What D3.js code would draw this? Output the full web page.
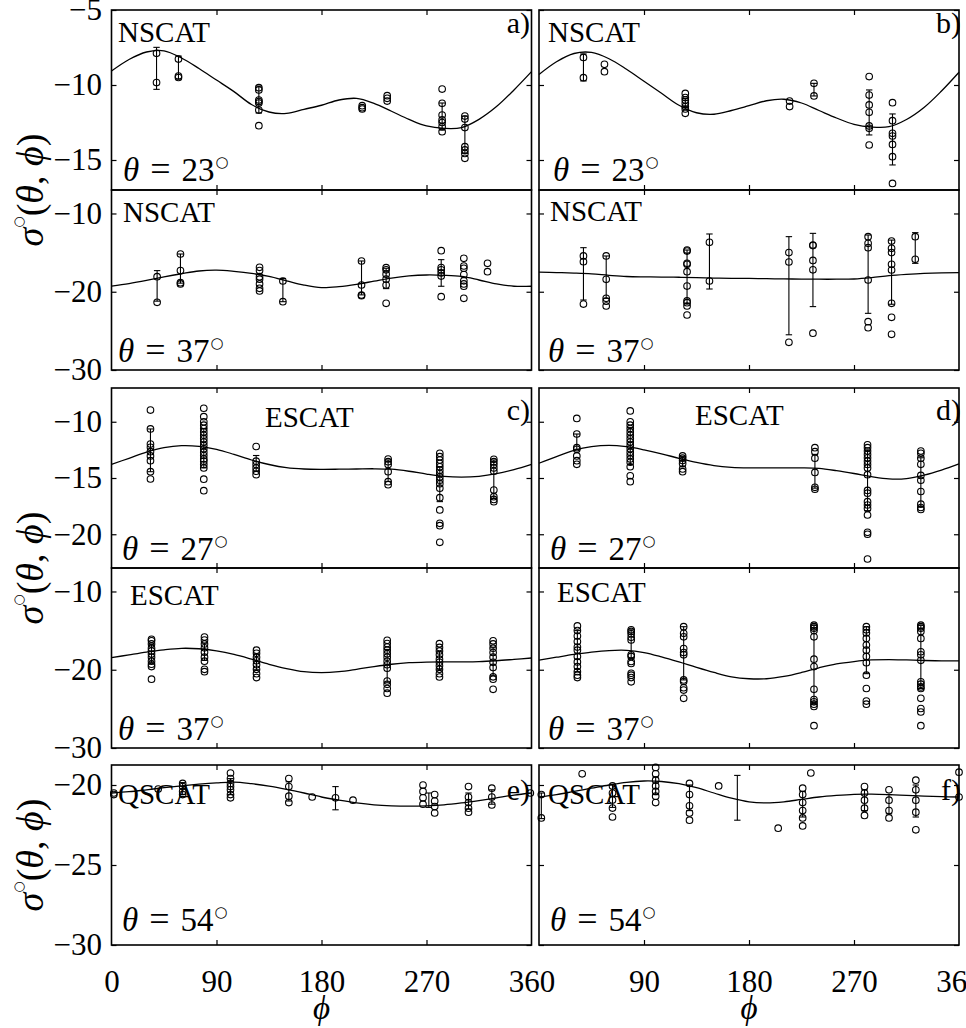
<!DOCTYPE html>
<html>
<head>
<meta charset="utf-8">
<script src="https://cdn.jsdelivr.net/npm/d3@7"></script>
<style>
  body { margin: 0; background: #fff; }
  svg { display: block; }
  svg text { fill: #000; font-family: 'Liberation Serif', 'Times New Roman', Times, serif; }
</style>
</head>
<body>
<svg id="fig" width="966" height="1028"></svg>
<script>
// ---------- azimuth grid of the model curves ----------
const curvePhi = [0, 15, 30, 45, 60, 75, 90, 105, 120, 135, 150, 165, 180,
                  195, 210, 225, 240, 255, 270, 285, 300, 315, 330, 345, 360];

// ---------- tick labels ----------
const xTicksLeft  = [0, 90, 180, 270, 360];
const xTicksRight = [90, 180, 270, 360];
const xTickMarks  = [90, 180, 270];
const yTicksA1 = [-5, -10, -15];
const yTicksA2 = [-10, -20, -30];
const yTicksC1 = [-10, -15, -20];
const yTicksC2 = [-10, -20, -30];
const yTicksE  = [-20, -25, -30];

// ---------- a) NSCAT, theta = 23 / 37 ----------
const aTopCurve = [-9.07, -8.3, -7.8, -7.72, -8.2, -8.9, -9.67, -10.44, -11.3, -11.8, -11.89, -11.62, -11.35,
                   -11.0, -10.89, -11.22, -11.75, -12.29, -12.73, -12.89, -12.84, -12.29, -11.44, -10.33, -9.11];
const aTopPts = [
  [38.6, [-7.89, -9.84]],
  [57.4, [-8.27, -9.4, -9.5]],
  [126.3, [-10.18, -10.33, -11.0, -11.1, -11.2, -11.67, -12.71]],
  [214.9, [-11.38, -11.51, -11.6]],
  [236.3, [-10.71, -10.89, -11.07]],
  [283.4, [-10.27, -11.22, -12.0, -12.33, -12.5, -12.78, -13.11]],
  [302.9, [-12.07, -12.27, -12.84, -14.11, -14.33, -14.56, -14.89]]
];
const aTopBars = [[38.6, -7.49, -10.29], [57.4, -8.07, -9.6], [126.3, -10.07, -11.87],
                  [283.4, -11.2, -13.0], [302.9, -12.07, -14.56]];

const aBotCurve = [-19.27, -18.95, -18.55, -18.1, -17.7, -17.35, -17.25, -17.4, -17.65, -18.05, -18.6, -19.15, -19.48,
                   -19.35, -19.05, -18.65, -18.25, -17.98, -17.86, -17.9, -18.05, -18.5, -19.0, -19.3, -19.3];
const aBotPts = [
  [39.1, [-18.07, -21.35]],
  [59.1, [-15.18, -17.3, -18.84, -19.0]],
  [126.9, [-16.88, -17.3, -18.07, -18.4, -19.0, -19.56, -19.9]],
  [146.9, [-18.63, -21.27]],
  [214.3, [-16.07, -19.14, -20.42, -20.5]],
  [235.4, [-16.93, -17.2, -17.75, -18.4, -19.14, -21.48]],
  [282.6, [-14.75, -16.9, -17.2, -17.6, -18.0, -20.63]],
  [302.0, [-15.73, -16.71, -17.0, -17.8, -18.6, -19.0, -19.3, -20.84]],
  [322.3, [-16.37, -17.44]]
];
const aBotBars = [[39.1, -17.3, -21.2], [59.1, -15.18, -18.9], [146.9, -18.3, -21.27],
                  [214.3, -16.07, -20.4], [235.4, -17.0, -19.6], [282.6, -15.9, -19.3]];

// ---------- b) NSCAT, theta = 23 / 37 ----------
const bTopCurve = [-9.3, -8.45, -7.9, -7.83, -8.25, -8.95, -9.75, -10.55, -11.35, -11.85, -11.95, -11.7, -11.38,
                   -11.05, -10.95, -11.2, -11.7, -12.2, -12.62, -12.8, -12.78, -12.3, -11.5, -10.4, -9.15];
const bTopPts = [
  [38.1, [-8.16, -9.51]],
  [56.1, [-8.62, -9.11]],
  [125.4, [-10.56, -10.84, -11.0, -11.22, -11.44, -11.6, -11.89]],
  [214.8, [-11.07, -11.44]],
  [235.7, [-9.89, -10.73]],
  [283.0, [-9.44, -10.67, -11.33, -11.82, -12.73, -12.89, -14.0]],
  [303.0, [-11.18, -12.38, -13.22, -13.4, -13.96, -14.78, -16.56]]
];
const bTopBars = [[38.1, -7.93, -9.73], [125.4, -10.9, -11.5], [235.7, -9.89, -10.73],
                  [283.0, -10.33, -13.33], [303.0, -11.93, -15.33]];

const bBotCurve = [-17.5, -17.55, -17.62, -17.72, -17.9, -18.05, -18.1, -18.12, -18.15, -18.2, -18.25, -18.28, -18.3,
                   -18.33, -18.36, -18.38, -18.4, -18.4, -18.37, -18.2, -17.95, -17.78, -17.65, -17.58, -17.56];
const bBotPts = [
  [38.1, [-15.43, -16.16, -21.57]],
  [57.6, [-15.43, -18.42, -20.84, -21.2, -21.82]],
  [126.9, [-14.67, -14.8, -16.37, -16.5, -17.44, -19.27, -21.18, -21.4, -21.82, -22.97]],
  [146.1, [-13.69, -18.63]],
  [214.2, [-15.0, -16.2, -26.46]],
  [234.8, [-14.03, -14.1, -16.0, -17.2, -25.3]],
  [282.1, [-12.96, -13.81, -14.37, -18.5, -23.83, -24.6]],
  [302.2, [-13.52, -14.45, -15.0, -16.5, -17.22, -21.48, -23.27, -25.44]],
  [322.5, [-12.96, -15.86]]
];
const bBotBars = [[38.1, -14.37, -21.06], [57.6, -15.43, -20.84], [126.9, -14.67, -21.5],
                  [146.1, -12.62, -19.65], [214.2, -12.96, -25.5], [234.8, -12.54, -21.9],
                  [282.1, -12.75, -22.76], [302.2, -13.4, -21.6], [322.5, -12.45, -16.37]];

// ---------- c) ESCAT, theta = 27 / 37 ----------
const cTopCurve = [-13.78, -13.25, -12.7, -12.3, -12.12, -12.18, -12.45, -12.9, -13.4, -13.8, -14.08, -14.2, -14.23,
                   -14.22, -14.2, -14.18, -14.22, -14.4, -14.65, -14.85, -14.92, -14.85, -14.62, -14.25, -13.78];
const cTopPts = [
  [33.4, [-8.96, -10.64, -11.98, -12.27, -12.66, -13.04, -13.46, -14.44, -15.09]],
  [79.1, [-8.8, -9.55, -10.0, -10.3, -10.6, -10.9, -11.2, -11.5, -11.8, -12.1, -12.4, -12.7, -13.0,
          -13.3, -13.5, -13.8, -14.1, -15.1, -16.13]],
  [124.0, [-12.2, -13.5, -13.8, -14.1, -14.4, -14.7]],
  [237.1, [-13.31, -13.55, -13.8, -14.44, -15.33, -15.6]],
  [281.4, [-12.81, -13.1, -13.4, -13.7, -14.0, -14.3, -14.6, -14.9, -15.2, -15.5, -15.9, -16.75,
           -17.84, -19.03, -19.24, -20.72]],
  [327.7, [-13.34, -13.55, -13.8, -14.1, -14.4, -16.07, -16.66, -16.9, -17.1]]
];
const cTopBars = [[33.4, -10.64, -14.44], [79.1, -10.6, -14.1], [124.0, -13.0, -14.4],
                  [237.1, -13.4, -15.3], [281.4, -14.0, -17.1], [327.7, -13.4, -16.8]];

const cBotCurve = [-18.46, -18.1, -17.75, -17.45, -17.26, -17.32, -17.6, -18.05, -18.65, -19.3, -19.85, -20.25, -20.37,
                   -20.25, -19.95, -19.6, -19.3, -19.1, -19.02, -19.0, -19.0, -18.97, -18.85, -18.68, -18.5];
const cBotPts = [
  [34.3, [-16.11, -16.3, -16.7, -17.25, -17.6, -18.0, -18.4, -18.9, -19.3, -19.6, -21.2]],
  [79.7, [-15.82, -16.2, -16.7, -17.2, -17.75, -18.4, -18.9, -19.95, -20.25]],
  [124.3, [-17.5, -17.9, -18.4, -18.85, -19.35, -19.95, -20.5, -21.0]],
  [236.3, [-16.24, -16.66, -17.1, -17.5, -17.95, -18.4, -18.9, -19.36, -19.8, -21.44, -21.86, -22.4, -23.0]],
  [281.1, [-16.67, -17.15, -17.6, -18.1, -18.65, -19.05, -19.5, -19.95, -20.5, -20.93]],
  [327.1, [-16.3, -16.7, -17.25, -17.8, -18.4, -19.05, -19.7, -20.9, -21.2, -22.5]]
];
const cBotBars = [[34.3, -16.8, -19.1], [79.7, -16.6, -18.8], [124.3, -18.0, -20.0],
                  [236.3, -17.4, -21.6], [281.1, -17.7, -20.0], [327.1, -17.2, -20.7]];

// ---------- d) ESCAT, theta = 27 / 37 ----------
const dTopCurve = [-13.69, -13.1, -12.55, -12.22, -12.1, -12.22, -12.5, -12.85, -13.25, -13.62, -13.9, -14.05, -14.1,
                   -14.1, -14.1, -14.1, -14.15, -14.35, -14.6, -14.88, -15.08, -15.05, -14.75, -14.3, -13.75];
const dTopPts = [
  [32.4, [-9.7, -11.09, -12.3, -12.45, -13.04, -13.46, -13.78]],
  [78.2, [-9.04, -10.0, -10.3, -10.6, -10.9, -11.2, -11.5, -11.8, -12.1, -12.4, -12.7, -13.0, -13.3,
          -13.6, -14.0, -14.8, -15.33]],
  [123.1, [-13.04, -13.24, -13.45, -13.7, -14.2, -14.44]],
  [236.5, [-12.3, -12.66, -13.24, -14.5, -15.83, -16.0]],
  [281.6, [-12.05, -12.3, -12.6, -12.9, -13.2, -13.5, -13.8, -14.1, -14.7, -16.1, -16.35, -17.1,
           -17.4, -17.7, -18.29, -19.83, -20.0, -22.2]],
  [327.3, [-12.6, -12.8, -13.24, -13.78, -14.77, -15.2, -16.2, -17.33, -17.62, -17.8]]
];
const dTopBars = [[32.4, -11.09, -12.45], [78.2, -10.5, -13.8], [123.1, -13.1, -14.0],
                  [236.5, -12.9, -15.9], [281.6, -12.5, -17.9], [327.3, -13.2, -17.5]];

const dBotCurve = [-18.76, -18.4, -18.05, -17.75, -17.55, -17.52, -17.8, -18.35, -19.0, -19.7, -20.35, -20.9, -21.15,
                   -21.15, -20.85, -20.35, -19.75, -19.25, -18.95, -18.75, -18.7, -18.75, -18.82, -18.86, -18.87];
const dBotPts = [
  [32.9, [-14.4, -15.0, -15.7, -16.4, -17.1, -17.5, -18.3, -19.0, -19.6, -20.25, -20.7, -21.0]],
  [79.0, [-14.9, -15.1, -15.4, -15.85, -16.2, -18.1, -18.3, -18.95, -19.2, -20.45, -20.7, -21.0, -21.55]],
  [124.0, [-14.5, -15.35, -15.8, -17.3, -17.8, -18.1, -21.3, -21.5, -22.3, -22.6, -23.65]],
  [235.7, [-14.3, -14.5, -14.7, -15.0, -15.8, -18.65, -19.6, -22.5, -23.8, -24.1, -24.4, -24.7, -27.15]],
  [280.6, [-14.5, -14.9, -15.3, -16.0, -16.85, -17.5, -18.3, -19.1, -20.7, -22.4, -24.0, -24.4]],
  [327.3, [-14.3, -14.5, -14.7, -15.1, -16.0, -17.7, -18.1, -18.8, -21.55, -21.85, -22.2, -22.4,
           -23.65, -24.95, -25.4, -27.15]]
];
const dBotBars = [[32.9, -15.0, -20.25], [79.0, -14.9, -18.5], [124.0, -14.5, -21.3],
                  [235.7, -14.3, -24.4], [280.6, -14.5, -20.5], [327.3, -14.3, -22.4]];

// ---------- e), f) QSCAT, theta = 54 ----------
const eCurve = [-20.5, -20.42, -20.3, -20.17, -20.05, -19.95, -19.87, -19.82, -19.92, -20.07, -20.27, -20.5, -20.75,
                -20.95, -21.12, -21.24, -21.3, -21.32, -21.3, -21.24, -21.12, -20.97, -20.8, -20.63, -20.5];
const ePts = [
  [2, [-20.5, -20.6]],
  [40, [-20.25]],
  [61, [-19.9, -20.1, -20.4, -20.6]],
  [102, [-19.25, -19.6, -19.9, -20.1, -20.3, -20.6, -20.8]],
  [152, [-19.6, -20.1, -20.7, -21.1]],
  [172, [-20.75]],
  [192, [-20.8]],
  [207, [-20.95]],
  [267, [-20.0, -20.4, -20.8, -21.2]],
  [277, [-20.6, -21.0, -21.35, -21.75]],
  [306, [-20.1, -20.75, -21.1, -21.45, -21.7]],
  [326, [-20.2, -20.75, -21.25]],
  [359, [-20.5]]
];
const eBars = [[61, -19.85, -20.6], [102, -19.6, -20.6], [152, -19.8, -21.0], [192, -20.1, -21.55],
               [272, -20.5, -21.4], [306, -20.5, -21.5], [326, -20.3, -21.2]];

const fCurve = [-20.75, -20.6, -20.4, -20.2, -20.0, -19.83, -19.75, -19.78, -19.92, -20.17, -20.5, -20.82, -21.05,
                -21.12, -21.05, -20.9, -20.75, -20.65, -20.58, -20.57, -20.6, -20.65, -20.7, -20.73, -20.75];
const fPts = [
  [2, [-20.6, -22.06]],
  [37, [-19.3]],
  [63, [-20.06, -20.5, -20.94, -21.44, -22.0]],
  [100, [-18.9, -19.3, -19.7, -20.06, -20.4, -20.7, -21.1]],
  [129, [-19.9, -20.6, -21.3, -21.75, -22.2]],
  [154, [-20.06]],
  [205, [-22.7]],
  [226, [-20.2, -20.6, -21.1, -21.6, -22.06, -22.56]],
  [233, [-19.25]],
  [279, [-20.1, -20.5, -20.95, -21.45, -21.9]],
  [300, [-20.3, -20.95, -21.6, -22.06]],
  [323, [-19.7, -20.3, -20.95, -21.7, -22.8]],
  [360, [-19.2, -20.75]]
];
const fBars = [[2, -20.5, -22.1], [63, -20.0, -21.4], [100, -19.5, -20.6], [129, -20.0, -21.6],
               [170, -19.4, -22.2], [226, -20.4, -22.0], [279, -20.3, -21.6], [300, -20.6, -21.8],
               [323, -20.0, -22.0]];

// ---------- layout ----------
const RING_FONT = "'DejaVu Sans', sans-serif";
const colX = [[111.5, 531.5], [539, 959]];
const PH = 180;
const rows = [
  { top: 10,  dom: [-17, -5],     ticks: yTicksA1 },
  { top: 190, dom: [-30, -7],     ticks: yTicksA2 },
  { top: 388, dom: [-23, -7],     ticks: yTicksC1 },
  { top: 568, dom: [-30, -7],     ticks: yTicksC2 },
  { top: 765, dom: [-30, -18.75], ticks: yTicksE }
];

const panels = [
  { row: 0, col: 0, curve: aTopCurve, pts: aTopPts, bars: aTopBars,
    name: ['NSCAT', 118, 41.5], tag: ['a)', 530, 33], theta: ['23', 123, 181] },
  { row: 1, col: 0, curve: aBotCurve, pts: aBotPts, bars: aBotBars,
    name: ['NSCAT', 123, 221.5], theta: ['37', 118, 361.5] },
  { row: 0, col: 1, curve: bTopCurve, pts: bTopPts, bars: bTopBars,
    name: ['NSCAT', 548, 41.5], tag: ['b)', 961, 33], theta: ['23', 553, 181] },
  { row: 1, col: 1, curve: bBotCurve, pts: bBotPts, bars: bBotBars,
    name: ['NSCAT', 550, 220.5], theta: ['37', 548, 361.5] },
  { row: 2, col: 0, curve: cTopCurve, pts: cTopPts, bars: cTopBars,
    name: ['ESCAT', 265, 427], tag: ['c)', 530, 420], theta: ['27', 122, 560] },
  { row: 3, col: 0, curve: cBotCurve, pts: cBotPts, bars: cBotBars,
    name: ['ESCAT', 130, 605], theta: ['37', 118, 740] },
  { row: 2, col: 1, curve: dTopCurve, pts: dTopPts, bars: dTopBars,
    name: ['ESCAT', 695, 425], tag: ['d)', 961, 420], theta: ['27', 550, 560] },
  { row: 3, col: 1, curve: dBotCurve, pts: dBotPts, bars: dBotBars,
    name: ['ESCAT', 557, 602], theta: ['37', 548, 740] },
  { row: 4, col: 0, curve: eCurve, pts: ePts, bars: eBars,
    name: ['QSCAT', 118, 804], tag: ['e)', 530, 800], theta: ['54', 122, 931] },
  { row: 4, col: 1, curve: fCurve, pts: fPts, bars: fBars,
    name: ['QSCAT', 548, 804], tag: ['f)', 961, 800], theta: ['54', 550, 931] }
];

const svg = d3.select('#fig');

function innerTicks(g, axis) {
  g.call(axis);
  g.select('.domain').remove();
  g.selectAll('text').remove();
  g.selectAll('line').attr('stroke', '#000').attr('stroke-width', 1.2);
}

function thetaText(g, deg, x, y) {
  const t = g.append('text').attr('x', x).attr('y', y).attr('font-size', 33);
  t.append('tspan').attr('font-style', 'italic').text('θ');
  t.append('tspan').attr('dx', 11).attr('font-size', 36).text('=');
  t.append('tspan').attr('dx', 11).text(deg);
  t.append('tspan').attr('dx', 1).attr('dy', -14).attr('font-size', 15)
    .style('font-family', RING_FONT).text('○');
}

panels.forEach(p => {
  const r = rows[p.row];
  const [x0, x1] = colX[p.col];
  const x = d3.scaleLinear().domain([0, 360]).range([x0, x1]);
  const y = d3.scaleLinear().domain(r.dom).range([r.top + PH, r.top]);
  const g = svg.append('g');

  // model curve
  const line = d3.line()
    .x((d, i) => x(curvePhi[i]))
    .y(d => y(d))
    .curve(d3.curveCatmullRom.alpha(0.5));
  g.append('path').datum(p.curve).attr('d', line)
    .attr('fill', 'none').attr('stroke', '#000').attr('stroke-width', 1.3);

  // error bars
  const cap = 3.2;
  const eb = g.append('g').attr('stroke', '#000').attr('stroke-width', 1.1);
  p.bars.forEach(([phi, lo, hi]) => {
    const cx = x(phi);
    eb.append('line').attr('x1', cx).attr('x2', cx).attr('y1', y(lo)).attr('y2', y(hi));
    eb.append('line').attr('x1', cx - cap).attr('x2', cx + cap).attr('y1', y(lo)).attr('y2', y(lo));
    eb.append('line').attr('x1', cx - cap).attr('x2', cx + cap).attr('y1', y(hi)).attr('y2', y(hi));
  });

  // observations
  const flat = [];
  p.pts.forEach(([phi, vals]) => vals.forEach(v => flat.push([phi, v])));
  g.append('g').selectAll('circle').data(flat).join('circle')
    .attr('cx', d => x(d[0])).attr('cy', d => y(d[1])).attr('r', 3.3)
    .attr('fill', 'none').attr('stroke', '#000').attr('stroke-width', 1.1);

  // inward ticks on all four sides
  innerTicks(g.append('g').attr('transform', `translate(${x0},0)`),
    d3.axisLeft(y).tickValues(r.ticks).tickSize(-5));
  innerTicks(g.append('g').attr('transform', `translate(${x1},0)`),
    d3.axisRight(y).tickValues(r.ticks).tickSize(-5));
  innerTicks(g.append('g').attr('transform', `translate(0,${r.top})`),
    d3.axisTop(x).tickValues(xTickMarks).tickSize(-5));
  innerTicks(g.append('g').attr('transform', `translate(0,${r.top + PH})`),
    d3.axisBottom(x).tickValues(xTickMarks).tickSize(-5));

  // frame
  g.append('rect').attr('x', x0).attr('y', r.top).attr('width', x1 - x0).attr('height', PH)
    .attr('fill', 'none').attr('stroke', '#000').attr('stroke-width', 1.6);

  // y tick labels on the left column
  if (p.col === 0) {
    const ya = g.append('g').attr('transform', `translate(${x0},0)`)
      .call(d3.axisLeft(y).tickValues(r.ticks).tickSize(0).tickPadding(9.5));
    ya.select('.domain').remove();
    ya.attr('font-size', 31);
  }

  // x tick labels under the bottom row
  if (p.row === 4) {
    const xa = g.append('g').attr('transform', `translate(0,${r.top + PH})`)
      .call(d3.axisBottom(x).tickValues(p.col === 0 ? xTicksLeft : xTicksRight)
        .tickSize(0).tickPadding(25));
    xa.select('.domain').remove();
    xa.attr('font-size', 31);
    g.append('text').attr('x', (x0 + x1) / 2).attr('y', 1019)
      .attr('text-anchor', 'middle')
      .attr('font-style', 'italic').attr('font-size', 33).text('ϕ');
  }

  // annotations
  g.append('text').attr('x', p.name[1]).attr('y', p.name[2])
    .attr('font-size', 29).text(p.name[0]);
  if (p.tag) {
    g.append('text').attr('x', p.tag[1]).attr('y', p.tag[2]).attr('text-anchor', 'end')
      .attr('font-size', 30).text(p.tag[0]);
  }
  thetaText(g, p.theta[0], p.theta[1], p.theta[2]);
});

// y-axis titles, one per instrument row pair
[190, 568, 855].forEach(cy => {
  const t = svg.append('text')
    .attr('transform', `translate(43,${cy}) rotate(-90)`)
    .attr('text-anchor', 'middle').attr('font-size', 38);
  t.append('tspan').attr('font-style', 'italic').text('σ');
  t.append('tspan').attr('dy', -20).attr('font-size', 13)
    .style('font-family', RING_FONT).text('○');
  t.append('tspan').attr('dy', 20).text('(');
  t.append('tspan').attr('font-style', 'italic').text('θ');
  t.append('tspan').text(', ');
  t.append('tspan').attr('font-style', 'italic').text('ϕ');
  t.append('tspan').text(')');
});
</script>
</body>
</html>
